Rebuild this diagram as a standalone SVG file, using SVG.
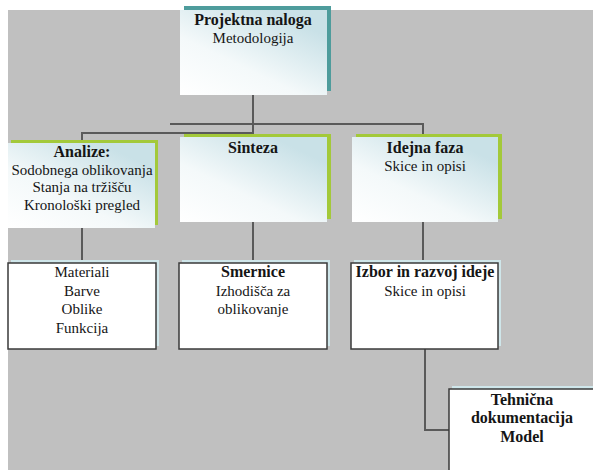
<svg xmlns="http://www.w3.org/2000/svg" width="593" height="470" viewBox="0 0 593 470">
<defs>
<linearGradient id="g" x1="0" y1="1" x2="0.75" y2="0.1">
<stop offset="0" stop-color="#ffffff"/>
<stop offset="0.45" stop-color="#f4f9fa"/>
<stop offset="1" stop-color="#c9e1e7"/>
</linearGradient>
</defs>
<style>
text{font-family:'Liberation Serif','Times New Roman',Times,serif;font-size:15px;fill:#151515;text-anchor:middle}
.b{font-weight:bold;font-size:16px}
.c{fill:none;stroke:#5a5a5a;stroke-width:2}
.box{fill:url(#g)}
.wb{fill:#ffffff;stroke:#3a3a3a;stroke-width:1.5}
.sh1{fill:#4e9c9c}
.sh2{fill:#a3c93a}
.sh3{fill:#cfe6ea}
</style>
<rect x="0" y="0" width="593" height="470" fill="#ffffff"/>
<rect x="8" y="10" width="585" height="460" fill="#c0c0c0"/>
<g id="connectors">
<path class="c" d="M253 95 V137"/>
<path class="c" d="M253 95 V133 H82 V143"/>
<path class="c" d="M253 95 V124 H423 V137"/>
<path class="c" d="M170 124 H253"/>
<path class="c" d="M82 228 V263"/>
<path class="c" d="M253 222 V263"/>
<path class="c" d="M423 222 V263"/>
<path class="c" d="M425 349 V430 H449"/>
</g>
<g id="n-projektna">
<rect class="sh1" x="184" y="6" width="147" height="85"/>
<rect class="box" x="180" y="10" width="147" height="85"/>
<text class="b" x="253" y="25">Projektna naloga</text>
<text x="253" y="43">Metodologija</text>
</g>
<g id="n-analize">
<rect class="sh2" x="11" y="140" width="147" height="85"/>
<rect class="box" x="8" y="143" width="147" height="85"/>
<text class="b" x="82" y="157">Analize:</text>
<text x="82" y="175">Sodobnega oblikovanja</text>
<text x="82" y="192">Stanja na tržišču</text>
<text x="82" y="210">Kronološki pregled</text>
</g>
<g id="n-sinteza">
<rect class="sh2" x="184" y="134" width="147" height="85"/>
<rect class="box" x="180" y="137" width="147" height="85"/>
<text class="b" x="253" y="153">Sinteza</text>
</g>
<g id="n-idejna">
<rect class="sh2" x="356" y="134" width="146" height="85"/>
<rect class="box" x="352" y="137" width="146" height="85"/>
<text class="b" x="425" y="153">Idejna faza</text>
<text x="425" y="171">Skice in opisi</text>
</g>
<g id="n-materiali">
<rect class="sh3" x="11" y="260" width="148" height="86"/>
<rect class="wb" x="8" y="263" width="148" height="86"/>
<text x="82" y="277">Materiali</text>
<text x="82" y="296">Barve</text>
<text x="82" y="314">Oblike</text>
<text x="82" y="333">Funkcija</text>
</g>
<g id="n-smernice">
<rect class="sh3" x="182" y="260" width="148" height="86"/>
<rect class="wb" x="179" y="263" width="148" height="86"/>
<text class="b" x="253" y="277">Smernice</text>
<text x="253" y="296">Izhodišča za</text>
<text x="253" y="314">oblikovanje</text>
</g>
<g id="n-izbor">
<rect class="sh3" x="354" y="260" width="147" height="86"/>
<rect class="wb" x="351" y="263" width="147" height="86"/>
<text class="b" x="425" y="277">Izbor in razvoj ideje</text>
<text x="425" y="296">Skice in opisi</text>
</g>
<g id="n-tehnicna">
<rect class="sh3" x="452" y="386" width="150" height="90"/>
<rect class="wb" x="449" y="389" width="150" height="90"/>
<text class="b" x="522" y="405">Tehnična</text>
<text class="b" x="522" y="423">dokumentacija</text>
<text class="b" x="522" y="442">Model</text>
</g>
</svg>
